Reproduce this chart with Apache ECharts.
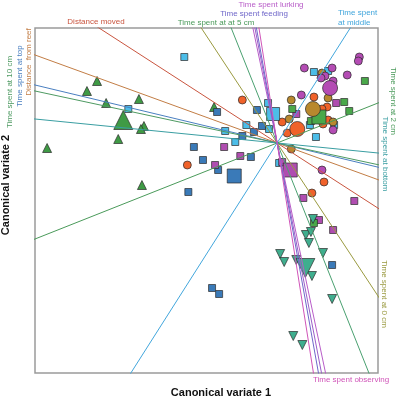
<!DOCTYPE html>
<html>
<head>
<meta charset="utf-8">
<script src="https://cdn.jsdelivr.net/npm/echarts@6/dist/echarts.min.js"></script>
<style>
  html, body { margin: 0; padding: 0; background: #fff; }
  #chart { width: 401px; height: 401px; }
</style>
</head>
<body>
<div id="chart"></div>
<script>
// group scores on canonical variates [cv1, cv2]
const greenTriangles = [[-3.57, 1.24], [-3.77, 1.04], [-3.39, 0.80], [-2.74, 0.88], [-2.64, 0.34],
  [-2.70, 0.28], [-3.15, 0.08], [-4.56, -0.10], [-2.68, -0.84], [-1.25, 0.72]];
const greenTrianglesMean = [[-3.05, 0.46]];

const cyanSquares = [[-1.84, 1.72], [-2.95, 0.68], [-0.18, 0.80], [-0.61, 0.36], [-0.16, 0.28],
  [-1.03, 0.24], [-0.83, 0.02], [0.04, -0.40], [0.73, 1.42], [1.01, 1.44], [0.77, 0.12],
  [0.65, 0.36], [1.13, 0.36]];
const cyanSquaresMean = [[-0.08, 0.58]];

const blueSquares = [[-1.19, 0.62], [-0.40, 0.66], [-0.30, 0.34], [-0.46, 0.22], [-0.69, 0.14],
  [-1.65, -0.08], [-0.52, -0.28], [-1.47, -0.34], [-1.17, -0.54], [-1.76, -0.98], [1.09, -2.44],
  [-1.29, -2.90], [-1.15, -3.02]];
const blueSquaresMean = [[-0.85, -0.66]];

const purpleSquares = [[-1.05, -0.08], [-0.73, -0.26], [-1.23, -0.44], [0.10, -0.38], [0.38, 0.58],
  [1.17, 0.80], [0.52, -1.10], [1.53, -1.16], [0.83, -1.54], [1.11, -1.74]];
const purpleSquaresMean = [[0.26, -0.54]];

const greenSquares = [[1.74, 1.24], [1.33, 0.82], [1.43, 0.64], [0.30, 0.68], [0.67, 0.44], [0.73, -1.60]];
const greenSquaresMean = [[0.83, 0.52]];

const orangeCircles = [[-0.69, 0.86], [0.73, 0.92], [0.99, 0.72], [0.89, 0.68], [0.10, 0.42],
  [0.20, 0.20], [0.91, 0.38], [1.01, 0.46], [-1.78, -0.44], [0.93, -0.78], [0.69, -1.00]];
const orangeCirclesMean = [[0.40, 0.28]];

const brownCircles = [[0.89, 1.40], [1.01, 0.90], [0.28, 0.86], [0.24, 0.48], [1.11, 0.42], [0.28, -0.12]];
const brownCirclesMean = [[0.71, 0.68]];

const purpleCircles = [[1.63, 1.72], [1.61, 1.64], [0.54, 1.50], [1.09, 1.50], [0.95, 1.34],
  [0.87, 1.30], [1.39, 1.36], [1.11, 1.24], [0.48, 0.96], [1.11, 0.26], [0.89, -0.54]];
const purpleCirclesMean = [[1.05, 1.10]];

const tealTriangles = [[0.71, -1.52], [0.57, -1.84], [0.67, -1.78], [0.63, -2.00], [0.06, -2.22],
  [0.14, -2.38], [0.38, -2.34], [0.91, -2.20], [0.69, -2.66], [1.09, -3.12], [0.32, -3.86], [0.50, -4.04]];
const tealTrianglesMean = [[0.56, -2.50]];

// variable loadings (direction of each biplot line)
const loadingNames = ['Distance moved', 'Distance from reef', 'Time spent at top', 'Time spent at 10 cm',
  'Time spent at bottom', 'Time spent at 2 cm', 'Time spent at middle', 'Time spent at 0 cm',
  'Time spent at at 5 cm', 'Time spent lurking', 'Time spent other', 'Time spent feeding', 'Time spent observing'];
const loadingX = [-3.53, -4.80, -4.80, -4.80, 2.00, 2.00, 1.45, 2.00, -0.91, -0.48, -0.44, -0.41, -0.36];
const loadingY = [2.30, 1.76, 1.16, 1.04, -0.20, 0.80, 2.30, -3.06, 2.30, 2.30, 2.30, 2.30, 2.30];
const loadingColors = ['#c9553f', '#c27d45', '#4a7fc0', '#4e9a62', '#3a9ea2', '#4a9a5a', '#42a6dc',
  '#9a9a40', '#4aa070', '#b85cc8', '#9a5ec8', '#6f67c9', '#d054b8'];

const chartInstance = echarts.init(document.getElementById('chart'));
const font = '"Liberation Sans", Arial, sans-serif';

const lineSeries = loadingNames.map((name, i) => {
  return {
    name: name,
    type: 'line',
    data: [[-3 * loadingX[i], -3 * loadingY[i]], [3 * loadingX[i], 3 * loadingY[i]]],
    showSymbol: false,
    symbol: 'none',
    clip: true,
    silent: true,
    lineStyle: { color: loadingColors[i], width: 1 },
  };
});

function scatter(data, color, symbol, size, rotate) {
  return {
    type: 'scatter',
    data: data,
    symbol: symbol,
    symbolSize: size,
    symbolRotate: rotate || 0,
    itemStyle: { color: color, borderColor: '#2b2b2b', borderWidth: 0.7, opacity: 1 },
  };
}

function label(text, x, y, color, rotation, align) {
  return {
    type: 'text',
    x: x,
    y: y,
    rotation: rotation || 0,
    style: {
      text: text,
      fill: color,
      fontSize: 8,
      fontFamily: font,
      align: align || 'center',
      verticalAlign: 'middle',
    },
  };
}

const initOption = {
  animation: false,
  backgroundColor: '#fff',
  grid: {
    left: 35,
    right: 23,
    top: 28,
    bottom: 28,
    show: true,
    borderColor: '#9a9a9a',
    borderWidth: 1.5,
  },
  xAxis: {
    type: 'value',
    min: -4.8,
    max: 2.0,
    axisLine: { show: false },
    axisTick: { show: false },
    axisLabel: { show: false },
    splitLine: { show: false },
  },
  yAxis: {
    type: 'value',
    min: -4.6,
    max: 2.3,
    axisLine: { show: false },
    axisTick: { show: false },
    axisLabel: { show: false },
    splitLine: { show: false },
  },
  graphic: [
    label('Distance moved', 96, 22, '#c9553f'),
    label('Time spent at at 5 cm', 216, 23, '#4a9a5a'),
    label('Time spent feeding', 254, 14, '#6f67c9'),
    label('Time spent lurking', 271, 5, '#b85cc8'),
    label('Time spent', 338, 13, '#42a6dc', 0, 'left'),
    label('at middle', 338, 23, '#42a6dc', 0, 'left'),
    label('Time spent observing', 351, 380, '#d054b8'),
    label('Time spent at 10 cm', 10, 92, '#4e9a62', Math.PI / 2),
    label('Time spent at top', 20, 76, '#4a7fc0', Math.PI / 2),
    label('Distance  from reef', 28.5, 62, '#c27d45', Math.PI / 2),
    label('Time spent at 2 cm', 393, 101, '#4a9a5a', -Math.PI / 2),
    label('Time spent at bottom', 385, 154, '#3a9ea2', -Math.PI / 2),
    label('Time spent at 0 cm', 384, 294, '#9a9a40', -Math.PI / 2),
    {
      type: 'text',
      x: 221,
      y: 393,
      style: { text: 'Canonical variate 1', fill: '#111', fontSize: 11, fontWeight: 'bold',
        fontFamily: font, align: 'center', verticalAlign: 'middle' },
    },
    {
      type: 'text',
      x: 6,
      y: 185,
      rotation: Math.PI / 2,
      style: { text: 'Canonical variate 2', fill: '#111', fontSize: 11, fontWeight: 'bold',
        fontFamily: font, align: 'center', verticalAlign: 'middle' },
    },
  ],
  series: lineSeries.concat([
    scatter(greenTriangles, '#3f9a45', 'triangle', 9),
    scatter(greenTrianglesMean, '#3f9a45', 'triangle', 19),
    scatter(cyanSquares, '#4cbde8', 'rect', 7),
    scatter(blueSquares, '#3a7ab8', 'rect', 7),
    scatter(purpleSquares, '#b04db0', 'rect', 7),
    scatter(greenSquares, '#4aa84a', 'rect', 7),
    scatter(orangeCircles, '#f0622a', 'circle', 8),
    scatter(brownCircles, '#b8882e', 'circle', 8),
    scatter(purpleCircles, '#b44cb4', 'circle', 8),
    scatter(tealTriangles, '#3fae8e', 'triangle', 9, 180),
    scatter(cyanSquaresMean, '#4cbde8', 'rect', 13),
    scatter(blueSquaresMean, '#3a7ab8', 'rect', 14),
    scatter(purpleSquaresMean, '#b04db0', 'rect', 14),
    scatter(greenSquaresMean, '#4aa84a', 'rect', 14),
    scatter(orangeCirclesMean, '#f0622a', 'circle', 15),
    scatter(brownCirclesMean, '#b8882e', 'circle', 15),
    scatter(purpleCirclesMean, '#b44cb4', 'circle', 15),
    scatter(tealTrianglesMean, '#3fae8e', 'triangle', 19, 180),
  ]),
};

chartInstance.setOption(initOption);
</script>
</body>
</html>
